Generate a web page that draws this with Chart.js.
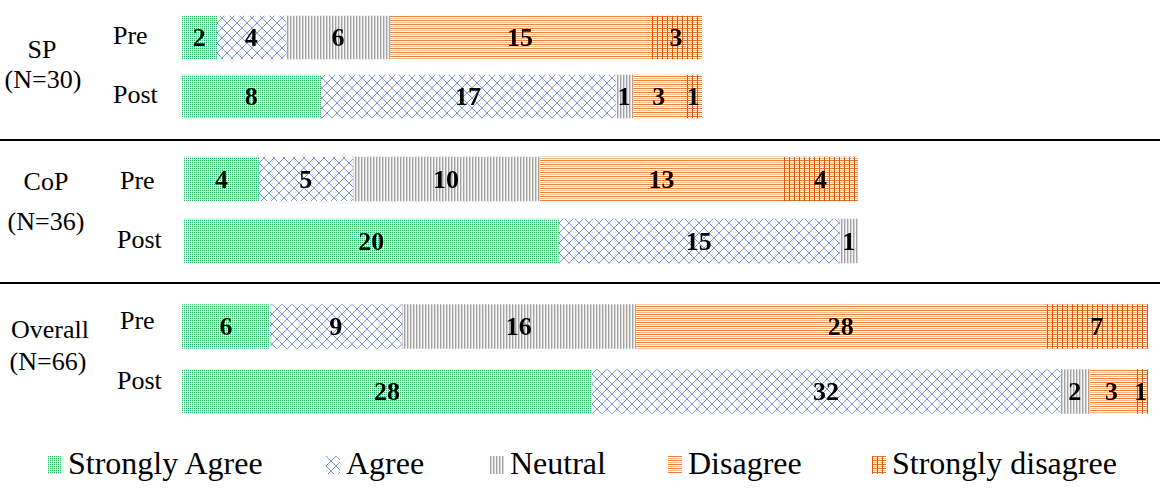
<!DOCTYPE html>
<html>
<head>
<meta charset="utf-8">
<script src="https://cdn.jsdelivr.net/npm/chart.js@4.4.0/dist/chart.umd.min.js"></script>
<style>
  body { margin: 0; background: #fff; font-family: "Liberation Serif", "Times New Roman", serif; }
  #wrap { position: relative; width: 1167px; height: 492px; overflow: hidden; }
  canvas.bar { position: absolute; }
  .lbl { position: absolute; font-size: 26px; line-height: 1; transform: translateY(-50%); white-space: nowrap; }
  .grp { position: absolute; font-size: 26px; line-height: 1; text-align: center; transform: translate(-50%, -50%); white-space: nowrap; }
  .sep { position: absolute; left: 0; width: 1160px; height: 2px; background: #000; }
  .leg { position: absolute; top: 446px; font-size: 32px; line-height: 34px; white-space: nowrap; }
  .leg canvas { position: absolute; left: 0; top: 10px; }
  .leg span { position: absolute; left: 20px; top: 0; }
</style>
</head>
<body>
<div id="wrap">
  <div class="grp" style="left:42px;top:50px">SP</div>
  <div class="grp" style="left:43px;top:80px">(N=30)</div>
  <div class="lbl" style="left:113px;top:36px">Pre</div>
  <div class="lbl" style="left:113px;top:95px">Post</div>
  <div class="sep" style="top:139px"></div>

  <div class="grp" style="left:46px;top:182px">CoP</div>
  <div class="grp" style="left:46px;top:222px">(N=36)</div>
  <div class="lbl" style="left:120px;top:181px">Pre</div>
  <div class="lbl" style="left:117px;top:240px">Post</div>
  <div class="sep" style="top:282px"></div>

  <div class="grp" style="left:50px;top:330px">Overall</div>
  <div class="grp" style="left:48px;top:362px">(N=66)</div>
  <div class="lbl" style="left:120px;top:321px">Pre</div>
  <div class="lbl" style="left:117px;top:381px">Post</div>

  <canvas class="bar" id="spChart" width="520" height="118" style="left:182px;top:8px"></canvas>
  <canvas class="bar" id="copChart" width="674" height="124" style="left:184px;top:148px"></canvas>
  <canvas class="bar" id="allChart" width="966" height="130" style="left:182px;top:294px"></canvas>
</div>
<script>
var categories = ['Pre', 'Post']
var responses = ['Strongly Agree', 'Agree', 'Neutral', 'Disagree', 'Strongly disagree']

// [Pre, Post] counts per response
var spStronglyAgree = [2, 8]
var spAgree = [4, 17]
var spNeutral = [6, 1]
var spDisagree = [15, 3]
var spStronglyDisagree = [3, 1]

var copStronglyAgree = [4, 20]
var copAgree = [5, 15]
var copNeutral = [10, 1]
var copDisagree = [13, 0]
var copStronglyDisagree = [4, 0]

var allStronglyAgree = [6, 28]
var allAgree = [9, 32]
var allNeutral = [16, 2]
var allDisagree = [28, 3]
var allStronglyDisagree = [7, 1]

// pattern tiles
function makeTile(w, h, draw) {
    let c = document.createElement('canvas')
    c.width = w
    c.height = h
    let g = c.getContext('2d')
    draw(g)
    return c
}
function px(g, x, y, col) {
    g.fillStyle = col
    g.fillRect(x, y, 1, 1)
}

var tiles = [
    // strongly agree: green dots
    makeTile(2, 2, function(g) {
        px(g, 0, 0, '#2db866')
        px(g, 0, 1, '#c5ecd3')
        px(g, 1, 0, '#e2f5e9')
        px(g, 1, 1, '#f6fcf8')
    }),
    // agree: blue diagonal cross
    makeTile(10, 10, function(g) {
        g.fillStyle = '#ffffff'; g.fillRect(0, 0, 10, 10)
        for (let i = 0; i < 10; i++) {
            px(g, i, i, '#7b9ae0')
            px(g, 9 - i, i, '#7b9ae0')
        }
    }),
    // neutral: grey vertical lines
    makeTile(3, 1, function(g) {
        px(g, 0, 0, '#a3a3a3')
        px(g, 1, 0, '#d6d6d6')
        px(g, 2, 0, '#f7f7f7')
    }),
    // disagree: orange horizontal lines
    makeTile(1, 4, function(g) {
        px(g, 0, 0, '#ee7f35')
        px(g, 0, 1, '#ffffff')
        px(g, 0, 2, '#f6b88e')
        px(g, 0, 3, '#ffffff')
    }),
    // strongly disagree: orange grid
    makeTile(5, 4, function(g) {
        g.fillStyle = '#ffffff'; g.fillRect(0, 0, 5, 4)
        g.fillStyle = '#f6b88e'; g.fillRect(0, 2, 5, 1)
        g.fillStyle = '#e27430'; g.fillRect(0, 0, 5, 1)
        g.fillStyle = '#c95d17'; g.fillRect(0, 0, 1, 4)
    })
]

function patternFor(ctx, i) {
    return ctx.createPattern(tiles[i], 'repeat')
}

var valueLabels = {
    id: 'valueLabels',
    afterDatasetsDraw(chart) {
        let ctx = chart.ctx
        ctx.save()
        ctx.font = 'bold 26px "Liberation Serif", serif'
        ctx.fillStyle = '#000'
        ctx.textAlign = 'center'
        ctx.textBaseline = 'middle'
        chart.data.datasets.forEach(function(ds, di) {
            chart.getDatasetMeta(di).data.forEach(function(bar, j) {
                if (!ds.data[j]) return
                let p = bar.getCenterPoint()
                ctx.fillText(ds.data[j], p.x, p.y + 2)
            })
        })
        ctx.restore()
    }
}

function makeChart(id, series, total, thickness) {
    let ctx = document.getElementById(id).getContext('2d')
    return new Chart(ctx, {
        type: 'bar',
        data: {
            labels: categories,
            datasets: series.map(function(values, i) {
                return {
                    label: responses[i],
                    data: values,
                    backgroundColor: patternFor(ctx, i),
                    borderWidth: 0,
                    barThickness: thickness
                }
            })
        },
        options: {
            indexAxis: 'y',
            responsive: false,
            animation: false,
            layout: { padding: 0 },
            plugins: { legend: { display: false }, tooltip: { enabled: false } },
            scales: {
                x: { stacked: true, min: 0, max: total, display: false },
                y: { stacked: true, display: false }
            }
        },
        plugins: [valueLabels]
    })
}

makeChart('spChart', [spStronglyAgree, spAgree, spNeutral, spDisagree, spStronglyDisagree], 30, 43)
makeChart('copChart', [copStronglyAgree, copAgree, copNeutral, copDisagree, copStronglyDisagree], 36, 44)
makeChart('allChart', [allStronglyAgree, allAgree, allNeutral, allDisagree, allStronglyDisagree], 66, 44)

// legend, swatches kept on even pixel columns
var legendLeft = [48, 326, 490, 668, 872]
var wrap = document.getElementById('wrap')
responses.forEach(function(name, i) {
    let item = document.createElement('div')
    item.className = 'leg'
    item.style.left = legendLeft[i] + 'px'
    let sw = document.createElement('canvas')
    sw.width = 14
    sw.height = 18
    let g = sw.getContext('2d')
    g.fillStyle = g.createPattern(tiles[i], 'repeat')
    g.fillRect(0, 0, 14, 18)
    item.appendChild(sw)
    let t = document.createElement('span')
    t.textContent = name
    item.appendChild(t)
    wrap.appendChild(item)
})
</script>
</body>
</html>
